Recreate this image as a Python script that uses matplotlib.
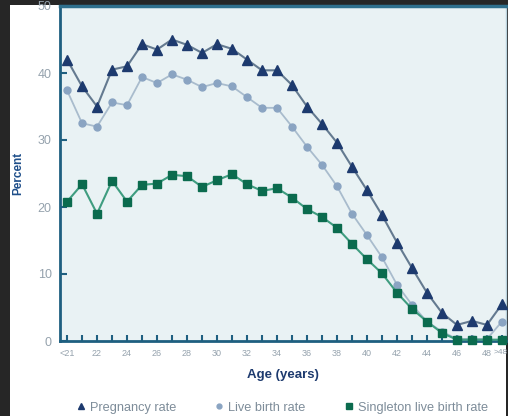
import matplotlib
matplotlib.use("Agg")
import matplotlib.pyplot as plt
from matplotlib.lines import Line2D
from matplotlib.patches import Rectangle

plt.rcParams["font.family"] = ["Liberation Sans", "DejaVu Sans"]

# Ages: <21, 21 ... 48, >48
ages = ["<21"] + [str(a) for a in range(21, 49)] + [">48"]
tick_labels = [lab if i % 2 == 0 else "" for i, lab in enumerate(ages)]
tick_labels[-1] = ""  # drawn separately so it stays inside the figure

pregnancy = [42, 38, 35, 40.5, 41, 44.3, 43.5, 45, 44.2, 43,
             44.3, 43.6, 42, 40.4, 40.4, 38.2, 35, 32.4, 29.6, 26,
             22.5, 18.8, 14.7, 10.9, 7.2, 4.2, 2.4, 3, 2.4, 5.5]
live_birth = [37.4, 32.5, 32, 35.6, 35.2, 39.4, 38.5, 39.8, 39, 37.9,
              38.5, 38, 36.4, 34.8, 34.8, 32, 29, 26.3, 23.1, 19,
              15.8, 12.5, 8.4, 5.4, 2.9, 1.4, 0.3, 0.3, 0.3, 2.9]
singleton = [20.8, 23.4, 19, 23.9, 20.8, 23.3, 23.5, 24.8, 24.6, 23,
             24, 24.9, 23.4, 22.4, 22.8, 21.4, 19.7, 18.5, 16.9, 14.5,
             12.2, 10.1, 7.2, 4.8, 2.9, 1.2, 0.2, 0.2, 0.2, 0.2]

navy = "#1d3a6e"
preg_line = "#647a90"
live_mark = "#8aa4c2"
live_line = "#a9bccd"
green = "#0b6b4e"
green_line = "#3f9d80"
spine = "#1e5f80"
tick_col = "#95a2ad"

fig = plt.figure(figsize=(5.08, 4.16), dpi=100, facecolor="#262626")
fig.patches.append(Rectangle((10 / 508, 0), 496 / 508, 411 / 416,
                             transform=fig.transFigure, facecolor="white",
                             edgecolor="none", zorder=-10))

ax = fig.add_axes([60 / 508, 1 - 341 / 416, 446 / 508, 335 / 416])
ax.set_facecolor("#e9f2f4")

x = list(range(len(ages)))
ax.plot(x, pregnancy, color=preg_line, lw=1.5, marker="^", ms=6.5,
        mfc=navy, mec=navy, zorder=3, clip_on=False)
ax.plot(x, live_birth, color=live_line, lw=1.3, marker="o", ms=5,
        mfc=live_mark, mec=live_mark, zorder=3, clip_on=False)
ax.plot(x, singleton, color=green_line, lw=1.5, marker="s", ms=6,
        mfc=green, mec=green, zorder=4, clip_on=False)

ax.set_xlim(-0.47, 29.27)
ax.set_ylim(0, 50)
ax.set_xticks(x)
ax.set_xticklabels(tick_labels)
ax.set_yticks([0, 10, 20, 30, 40, 50])

for s in ["left", "bottom"]:
    ax.spines[s].set_color(spine)
    ax.spines[s].set_linewidth(2)
ax.spines["top"].set_color("#2f6f8c")
ax.spines["top"].set_linewidth(2.5)
ax.spines["right"].set_color("#b9d3de")
ax.spines["right"].set_linewidth(1)

ax.tick_params(axis="x", direction="in", length=4, width=1.5, color=spine,
               labelsize=6.5, labelcolor=tick_col, pad=6)
ax.tick_params(axis="y", direction="in", length=5, width=1.5, color=spine,
               labelsize=9, labelcolor=tick_col, pad=6)

fig.text(507.5 / 508, 1 - 353 / 416, ages[-1], ha="right", va="center",
         fontsize=6, color=tick_col)

ax.set_xlabel("Age (years)", fontsize=9.5, fontweight="bold", color=navy, labelpad=8)
ax.set_ylabel("Percent", fontsize=8.5, fontweight="bold", color="#1f4f8a", labelpad=10)

handles = [
    Line2D([], [], ls="none", marker="^", ms=5, mfc=navy, mec=navy),
    Line2D([], [], ls="none", marker="o", ms=3.5, mfc=live_mark, mec=live_mark),
    Line2D([], [], ls="none", marker="s", ms=5, mfc=green, mec=green),
]
fig.legend(handles, ["Pregnancy rate", "Live birth rate", "Singleton live birth rate"],
           loc="center", bbox_to_anchor=(0.555, 0.02), ncol=3, frameon=False,
           fontsize=9.2, labelcolor="#7d8c99", handletextpad=0.3, columnspacing=3.0,
           handlelength=0.8)

fig.savefig("out.png", dpi=100, facecolor=fig.get_facecolor())
